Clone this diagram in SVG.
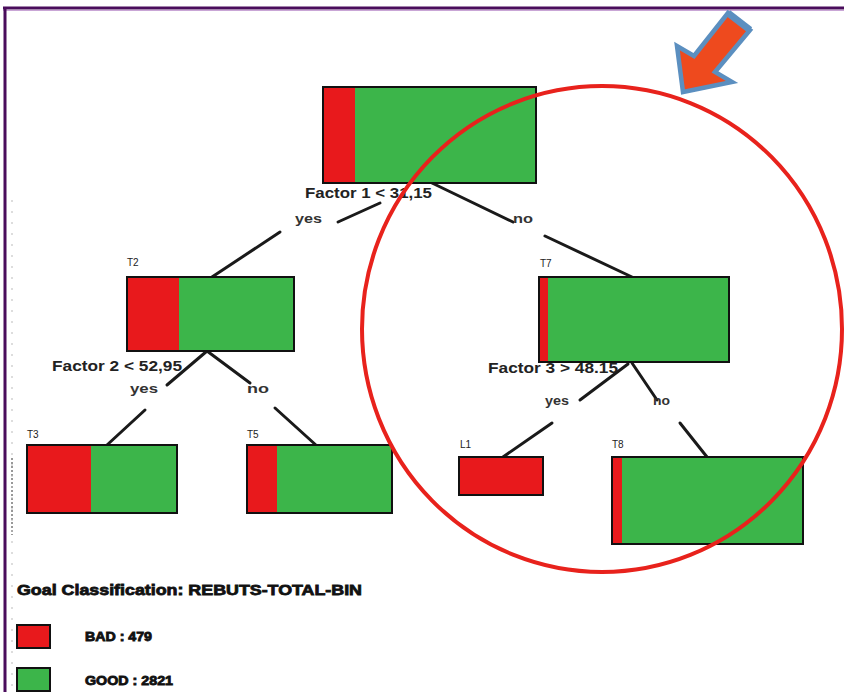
<svg xmlns="http://www.w3.org/2000/svg" width="844" height="692" viewBox="0 0 844 692">
<style>
.bad{fill:#e8191c}
.good{fill:#3cb54a}
.box{fill:none;stroke:#111;stroke-width:2}
.edge{stroke:#1a1a1a;stroke-width:3;stroke-linecap:round;fill:none}
.lbl{font-family:"Liberation Sans",Arial,sans-serif;font-size:10px;fill:#222}
.cond{font-family:"Liberation Sans",Arial,sans-serif;font-size:14px;font-weight:bold;fill:#222}
.yn{font-family:"Liberation Sans",Arial,sans-serif;font-size:13px;font-weight:bold;fill:#333}
.leg{font-family:"Liberation Sans",Arial,sans-serif;font-weight:bold;fill:#111;stroke:#111;stroke-width:0.8}
</style>
<rect width="844" height="692" fill="#ffffff"/>
<!-- frame -->
<line x1="3" y1="8" x2="844" y2="8" stroke="#4a0d5c" stroke-width="3"/>
<line x1="3" y1="10.5" x2="844" y2="10.5" stroke="#c9a6d6" stroke-width="1"/>
<line x1="5" y1="7" x2="5" y2="692" stroke="#4a0d5c" stroke-width="3"/>
<line x1="12" y1="458" x2="12" y2="535" stroke="#333" stroke-width="1" stroke-dasharray="2,2"/>
<line x1="12" y1="200" x2="12" y2="692" stroke="#bbb" stroke-width="1" stroke-dasharray="2,9"/>

<g id="connectors">
  <line class="edge" x1="380" y1="203" x2="338" y2="222"/>
  <line class="edge" x1="280" y1="232" x2="212" y2="277"/>
  <line class="edge" x1="432" y1="183" x2="513" y2="222"/>
  <line class="edge" x1="545" y1="236" x2="632" y2="277"/>
  <line class="edge" x1="207" y1="351" x2="167" y2="385"/>
  <line class="edge" x1="145" y1="410" x2="107" y2="445"/>
  <line class="edge" x1="207" y1="351" x2="250" y2="383"/>
  <line class="edge" x1="275" y1="408" x2="317" y2="446"/>
  <line class="edge" x1="628" y1="364" x2="580" y2="400"/>
  <line class="edge" x1="552" y1="423" x2="503" y2="457"/>
  <line class="edge" x1="632" y1="363" x2="657" y2="400"/>
  <line class="edge" x1="680" y1="423" x2="707" y2="457"/>
  <text class="yn" x="295" y="223" textLength="27" lengthAdjust="spacingAndGlyphs">yes</text>
  <text class="yn" x="513" y="223" textLength="20" lengthAdjust="spacingAndGlyphs">no</text>
  <text class="yn" x="130" y="393" textLength="28" lengthAdjust="spacingAndGlyphs">yes</text>
  <text class="yn" x="247" y="393" textLength="22" lengthAdjust="spacingAndGlyphs">no</text>
  <text class="yn" x="545" y="405" textLength="24" lengthAdjust="spacingAndGlyphs">yes</text>
  <text class="yn" x="653" y="405" textLength="17" lengthAdjust="spacingAndGlyphs">no</text>
</g>

<g id="root">
  <rect class="good" x="323" y="87" width="213" height="96"/>
  <rect class="bad" x="323" y="87" width="32" height="96"/>
  <rect class="box" x="323" y="87" width="213" height="96"/>
  <text class="cond" x="305" y="198" textLength="127" lengthAdjust="spacingAndGlyphs">Factor 1 &lt; 31,15</text>
</g>

<g id="T2">
  <text class="lbl" x="127" y="266">T2</text>
  <rect class="good" x="127" y="277" width="167" height="74"/>
  <rect class="bad" x="127" y="277" width="52" height="74"/>
  <rect class="box" x="127" y="277" width="167" height="74"/>
  <text class="cond" x="52" y="371" textLength="130" lengthAdjust="spacingAndGlyphs">Factor 2 &lt; 52,95</text>
</g>

<g id="T3">
  <text class="lbl" x="27" y="438">T3</text>
  <rect class="good" x="27" y="445" width="150" height="68"/>
  <rect class="bad" x="27" y="445" width="64" height="68"/>
  <rect class="box" x="27" y="445" width="150" height="68"/>
</g>

<g id="T5">
  <text class="lbl" x="247" y="438">T5</text>
  <rect class="good" x="247" y="445" width="145" height="68"/>
  <rect class="bad" x="247" y="445" width="30" height="68"/>
  <rect class="box" x="247" y="445" width="145" height="68"/>
</g>

<g id="T7">
  <text class="lbl" x="540" y="267">T7</text>
  <rect class="good" x="539" y="277" width="190" height="85"/>
  <rect class="bad" x="539" y="277" width="9" height="85"/>
  <rect class="box" x="539" y="277" width="190" height="85"/>
  <text class="cond" x="488" y="373" textLength="130" lengthAdjust="spacingAndGlyphs">Factor 3 &gt; 48.15</text>
</g>

<g id="L1">
  <text class="lbl" x="460" y="448">L1</text>
  <rect class="bad" x="459" y="457" width="84" height="38"/>
  <rect class="box" x="459" y="457" width="84" height="38"/>
</g>

<g id="T8">
  <text class="lbl" x="612" y="448">T8</text>
  <rect class="good" x="612" y="457" width="191" height="87"/>
  <rect class="bad" x="612" y="457" width="10" height="87"/>
  <rect class="box" x="612" y="457" width="191" height="87"/>
</g>

<g id="highlight">
  <ellipse cx="602" cy="329" rx="240" ry="243" fill="none" stroke="#e8221c" stroke-width="4"/>
  <polygon points="728,13 694,56 677,46 683,92 732,82 715,72 750,30" fill="#ee4a1e" stroke="#5b8fc0" stroke-width="4.5" stroke-linejoin="miter"/>
  <line x1="728" y1="13" x2="750" y2="30" stroke="#5b8fc0" stroke-width="7"/>
</g>

<g id="legend">
  <text class="leg" x="17" y="595" font-size="15" textLength="345" lengthAdjust="spacingAndGlyphs">Goal Classification: REBUTS-TOTAL-BIN</text>
  <rect class="bad" x="17" y="625" width="33" height="23" stroke="#111" stroke-width="2"/>
  <text class="leg" x="85" y="641" font-size="12" textLength="67" lengthAdjust="spacingAndGlyphs">BAD : 479</text>
  <rect class="good" x="17" y="668" width="33" height="23" stroke="#111" stroke-width="2"/>
  <text class="leg" x="85" y="685" font-size="12" textLength="88" lengthAdjust="spacingAndGlyphs">GOOD : 2821</text>
</g>
</svg>
